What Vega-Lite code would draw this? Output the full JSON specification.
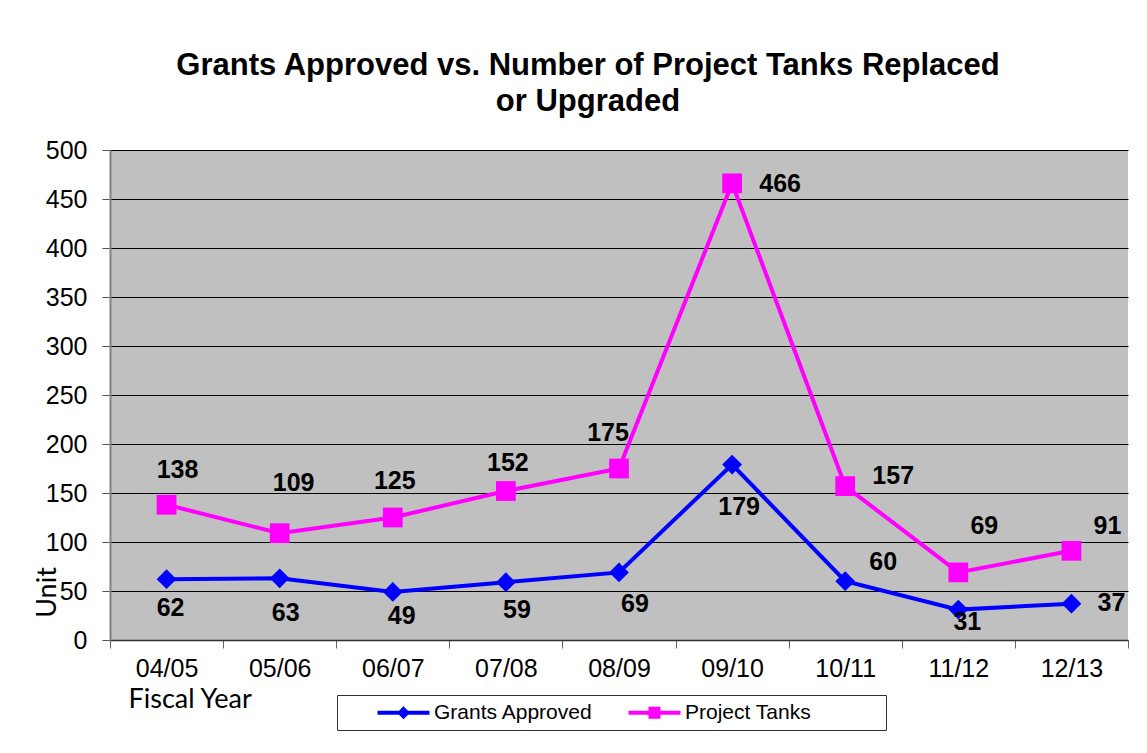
{
  "$schema": "https://vega.github.io/schema/vega-lite/v6.json",
  "width": 1018,
  "height": 490,
  "autosize": "none",
  "padding": {"left": 110, "top": 150, "right": 19, "bottom": 113},
  "background": "white",
  "title": {
    "text": ["Grants Approved vs. Number of Project Tanks Replaced", "or Upgraded"],
    "font": "Liberation Sans",
    "fontSize": 31,
    "fontWeight": "bold",
    "lineHeight": 36,
    "color": "black",
    "anchor": "middle",
    "dx": -31,
    "offset": 20
  },
  "data": {
    "values": [
      {"year": "04/05", "series": "Grants Approved", "value": 62},
      {"year": "05/06", "series": "Grants Approved", "value": 63},
      {"year": "06/07", "series": "Grants Approved", "value": 49},
      {"year": "07/08", "series": "Grants Approved", "value": 59},
      {"year": "08/09", "series": "Grants Approved", "value": 69},
      {"year": "09/10", "series": "Grants Approved", "value": 179},
      {"year": "10/11", "series": "Grants Approved", "value": 60},
      {"year": "11/12", "series": "Grants Approved", "value": 31},
      {"year": "12/13", "series": "Grants Approved", "value": 37},
      {"year": "04/05", "series": "Project Tanks", "value": 138},
      {"year": "05/06", "series": "Project Tanks", "value": 109},
      {"year": "06/07", "series": "Project Tanks", "value": 125},
      {"year": "07/08", "series": "Project Tanks", "value": 152},
      {"year": "08/09", "series": "Project Tanks", "value": 175},
      {"year": "09/10", "series": "Project Tanks", "value": 466},
      {"year": "10/11", "series": "Project Tanks", "value": 157},
      {"year": "11/12", "series": "Project Tanks", "value": 69},
      {"year": "12/13", "series": "Project Tanks", "value": 91}
    ]
  },
  "encoding": {
    "x": {
      "field": "year", "type": "ordinal", "bandPosition": 0.5,
      "scale": {"type": "band", "paddingInner": 0, "paddingOuter": 0},
      "axis": {
        "title": "Fiscal Year",
        "titleFont": "Lato", "titleFontSize": 27, "titleFontWeight": "normal", "titleColor": "black",
        "titleX": 18, "titleY": 67, "titleAlign": "left", "titleAnchor": "start", "titleBaseline": "alphabetic",
        "labelFont": "Liberation Sans", "labelFontSize": 25, "labelColor": "black", "labelAngle": 0,
        "labelPadding": 8, "tickBand": "extent", "tickSize": 8, "tickColor": "#666666",
        "domainColor": "#333333", "domainWidth": 1.5, "grid": false
      }
    },
    "y": {
      "field": "value", "type": "quantitative",
      "scale": {"domain": [0, 500], "nice": false},
      "axis": {
        "title": "Unit",
        "titleFont": "Lato", "titleFontSize": 27, "titleFontWeight": "normal", "titleColor": "black",
        "titleX": -55, "titleY": 442, "titleAlign": "center", "titleAngle": 270, "titleBaseline": "alphabetic",
        "values": [0, 50, 100, 150, 200, 250, 300, 350, 400, 450, 500],
        "labelFont": "Liberation Sans", "labelFontSize": 25, "labelColor": "black",
        "labelPadding": 15, "tickSize": 8, "tickColor": "#555555",
        "domainColor": "#808080", "domainWidth": 2,
        "grid": true, "gridColor": "black", "gridWidth": 1
      }
    },
    "color": {
      "field": "series", "type": "nominal",
      "scale": {"domain": ["Grants Approved", "Project Tanks"], "range": ["#0000FF", "#FF00FF"]},
      "legend": {
        "orient": "none", "legendX": 227, "legendY": 545, "direction": "horizontal",
        "title": ".", "titleOrient": "right", "titleColor": "white", "titleFontSize": 6, "titlePadding": 66, "titleAngle": 0,
        "symbolSize": 400, "symbolOffset": 33, "labelFont": "Liberation Sans", "labelFontSize": 21, "labelColor": "black",
        "labelOffset": 36, "columnPadding": 2, "padding": 7,
        "strokeColor": "#333333", "fillColor": "white",
        "encode": {
          "symbols": {
            "update": {
              "shape": {"signal": "datum.value === 'Grants Approved' ? 'M-1,-0.2L4.2,-0.2L4.2,0.2L-1,0.2Z M1.6,-0.65L2.25,0L1.6,0.65L0.95,0Z' : 'M-1,-0.2L4.2,-0.2L4.2,0.2L-1,0.2Z M1,-0.6L2.2,-0.6L2.2,0.6L1,0.6Z'"},
              "fill": {"scale": "color", "field": "value"},
              "strokeWidth": {"value": 0},
              "opacity": {"value": 1}
            }
          }
        }
      }
    }
  },
  "layer": [
    {"mark": {"type": "line", "strokeWidth": 4}},
    {"transform": [{"filter": "datum.series == 'Grants Approved'"}], "mark": {"type": "point", "filled": true, "opacity": 1, "size": 390, "shape": "diamond"}},
    {"transform": [{"filter": "datum.series == 'Project Tanks'"}], "mark": {"type": "point", "filled": true, "opacity": 1, "size": 390, "shape": "square"}},
    {"transform": [{"filter": "datum.series == 'Project Tanks' && datum.year == '04/05'"}], "mark": {"type": "text", "font": "Liberation Sans", "fontSize": 25, "fontWeight": "bold", "dx": 11, "dy": -35}, "encoding": {"text": {"field": "value"}, "color": {"value": "black"}}},
    {"transform": [{"filter": "datum.series == 'Project Tanks' && datum.year == '05/06'"}], "mark": {"type": "text", "font": "Liberation Sans", "fontSize": 25, "fontWeight": "bold", "dx": 14, "dy": -50}, "encoding": {"text": {"field": "value"}, "color": {"value": "black"}}},
    {"transform": [{"filter": "datum.series == 'Project Tanks' && datum.year == '06/07'"}], "mark": {"type": "text", "font": "Liberation Sans", "fontSize": 25, "fontWeight": "bold", "dx": 2, "dy": -37}, "encoding": {"text": {"field": "value"}, "color": {"value": "black"}}},
    {"transform": [{"filter": "datum.series == 'Project Tanks' && datum.year == '07/08'"}], "mark": {"type": "text", "font": "Liberation Sans", "fontSize": 25, "fontWeight": "bold", "dx": 2, "dy": -28}, "encoding": {"text": {"field": "value"}, "color": {"value": "black"}}},
    {"transform": [{"filter": "datum.series == 'Project Tanks' && datum.year == '08/09'"}], "mark": {"type": "text", "font": "Liberation Sans", "fontSize": 25, "fontWeight": "bold", "dx": -11, "dy": -36}, "encoding": {"text": {"field": "value"}, "color": {"value": "black"}}},
    {"transform": [{"filter": "datum.series == 'Project Tanks' && datum.year == '09/10'"}], "mark": {"type": "text", "font": "Liberation Sans", "fontSize": 25, "fontWeight": "bold", "dx": 48, "dy": 1}, "encoding": {"text": {"field": "value"}, "color": {"value": "black"}}},
    {"transform": [{"filter": "datum.series == 'Project Tanks' && datum.year == '10/11'"}], "mark": {"type": "text", "font": "Liberation Sans", "fontSize": 25, "fontWeight": "bold", "dx": 48, "dy": -10}, "encoding": {"text": {"field": "value"}, "color": {"value": "black"}}},
    {"transform": [{"filter": "datum.series == 'Project Tanks' && datum.year == '11/12'"}], "mark": {"type": "text", "font": "Liberation Sans", "fontSize": 25, "fontWeight": "bold", "dx": 26, "dy": -46}, "encoding": {"text": {"field": "value"}, "color": {"value": "black"}}},
    {"transform": [{"filter": "datum.series == 'Project Tanks' && datum.year == '12/13'"}], "mark": {"type": "text", "font": "Liberation Sans", "fontSize": 25, "fontWeight": "bold", "dx": 36, "dy": -25}, "encoding": {"text": {"field": "value"}, "color": {"value": "black"}}},
    {"transform": [{"filter": "datum.series == 'Grants Approved' && datum.year == '04/05'"}], "mark": {"type": "text", "font": "Liberation Sans", "fontSize": 25, "fontWeight": "bold", "dx": 4, "dy": 29}, "encoding": {"text": {"field": "value"}, "color": {"value": "black"}}},
    {"transform": [{"filter": "datum.series == 'Grants Approved' && datum.year == '05/06'"}], "mark": {"type": "text", "font": "Liberation Sans", "fontSize": 25, "fontWeight": "bold", "dx": 6, "dy": 35}, "encoding": {"text": {"field": "value"}, "color": {"value": "black"}}},
    {"transform": [{"filter": "datum.series == 'Grants Approved' && datum.year == '06/07'"}], "mark": {"type": "text", "font": "Liberation Sans", "fontSize": 25, "fontWeight": "bold", "dx": 9, "dy": 24}, "encoding": {"text": {"field": "value"}, "color": {"value": "black"}}},
    {"transform": [{"filter": "datum.series == 'Grants Approved' && datum.year == '07/08'"}], "mark": {"type": "text", "font": "Liberation Sans", "fontSize": 25, "fontWeight": "bold", "dx": 11, "dy": 28}, "encoding": {"text": {"field": "value"}, "color": {"value": "black"}}},
    {"transform": [{"filter": "datum.series == 'Grants Approved' && datum.year == '08/09'"}], "mark": {"type": "text", "font": "Liberation Sans", "fontSize": 25, "fontWeight": "bold", "dx": 16, "dy": 32}, "encoding": {"text": {"field": "value"}, "color": {"value": "black"}}},
    {"transform": [{"filter": "datum.series == 'Grants Approved' && datum.year == '09/10'"}], "mark": {"type": "text", "font": "Liberation Sans", "fontSize": 25, "fontWeight": "bold", "dx": 7, "dy": 42}, "encoding": {"text": {"field": "value"}, "color": {"value": "black"}}},
    {"transform": [{"filter": "datum.series == 'Grants Approved' && datum.year == '10/11'"}], "mark": {"type": "text", "font": "Liberation Sans", "fontSize": 25, "fontWeight": "bold", "dx": 38, "dy": -19}, "encoding": {"text": {"field": "value"}, "color": {"value": "black"}}},
    {"transform": [{"filter": "datum.series == 'Grants Approved' && datum.year == '11/12'"}], "mark": {"type": "text", "font": "Liberation Sans", "fontSize": 25, "fontWeight": "bold", "dx": 9, "dy": 12}, "encoding": {"text": {"field": "value"}, "color": {"value": "black"}}},
    {"transform": [{"filter": "datum.series == 'Grants Approved' && datum.year == '12/13'"}], "mark": {"type": "text", "font": "Liberation Sans", "fontSize": 25, "fontWeight": "bold", "dx": 40, "dy": -1}, "encoding": {"text": {"field": "value"}, "color": {"value": "black"}}}
  ],
  "config": {
    "view": {"fill": "#C0C0C0", "stroke": null},
    "font": "Liberation Sans"
  }
}
